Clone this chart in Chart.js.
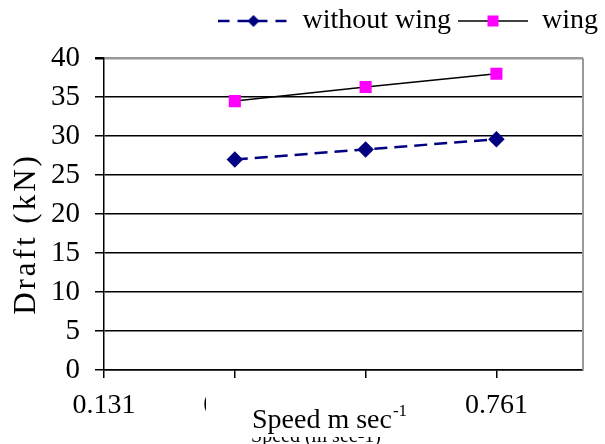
<!DOCTYPE html>
<html>
<head>
<meta charset="utf-8">
<title>Draft vs speed</title>
<script src="https://cdn.jsdelivr.net/npm/chart.js@4.4.0/dist/chart.umd.min.js"></script>
<style>
  body { margin: 0; background: #fff; }
  #wrap { position: relative; width: 605px; height: 444px; }
</style>
</head>
<body>
<div id="wrap"><canvas id="chart"></canvas></div>
<script>
const speeds = [0.341, 0.551, 0.761];
const withoutWing = [27.0, 28.3, 29.6];
const wing = [34.5, 36.3, 38.0];
const speedTicks = [0.131, 0.341, 0.551, 0.761];
const draftTicks = [0, 5, 10, 15, 20, 25, 30, 35, 40];

const NAVY = '#000080';
const PINK = '#ff00ff';

Chart.defaults.font.family = '"Liberation Serif", "Times New Roman", serif';
Chart.defaults.color = '#000';

// line + marker swatch for the legend key (excel style)
function swatch(lineColor, lineWidth, dash, drawMarker) {
  const c = document.createElement('canvas');
  c.width = 70; c.height = 16;
  const g = c.getContext('2d');
  g.strokeStyle = lineColor;
  g.lineWidth = lineWidth;
  g.setLineDash(dash);
  g.beginPath(); g.moveTo(0, 8); g.lineTo(70, 8); g.stroke();
  g.setLineDash([]);
  drawMarker(g, 35, 8);
  return c;
}
const keyWithout = swatch(NAVY, 2.5, [11, 8], (g, x, y) => {
  g.fillStyle = NAVY;
  g.beginPath(); g.moveTo(x, y - 6); g.lineTo(x + 6, y); g.lineTo(x, y + 6); g.lineTo(x - 6, y); g.closePath(); g.fill();
});
const keyWing = swatch('#000', 1.5, [], (g, x, y) => {
  g.fillStyle = PINK;
  g.fillRect(x - 5.5, y - 5.5, 11, 11);
});

// right frame line of the plot area
const frame = {
  id: 'frame',
  beforeDatasetsDraw(chart) {
    const {ctx, chartArea: a} = chart;
    ctx.save();
    ctx.strokeStyle = '#999';
    ctx.lineWidth = 2;
    ctx.beginPath(); ctx.moveTo(a.right, a.top); ctx.lineTo(a.right, a.bottom); ctx.stroke();
    ctx.restore();
  }
};

// axis titles; the x one is a text box pasted over the old title and labels
const axisText = {
  id: 'axisText',
  afterDraw(chart) {
    const ctx = chart.ctx;
    ctx.save();
    ctx.fillStyle = '#000';
    ctx.font = '20px "Liberation Serif"';
    ctx.textAlign = 'center';
    ctx.textBaseline = 'alphabetic';
    ctx.fillText('Speed (m sec-1)', 316, 442);

    ctx.fillStyle = '#fff';
    ctx.fillRect(206, 384, 244, 53);

    ctx.fillStyle = '#000';
    ctx.textAlign = 'left';
    ctx.font = '28px "Liberation Serif"';
    ctx.fillText('Speed m sec', 252, 428);
    const w = ctx.measureText('Speed m sec').width;
    ctx.font = '17px "Liberation Serif"';
    ctx.fillText('-1', 252 + w + 1, 416);

    ctx.translate(35, 234);
    ctx.rotate(-Math.PI / 2);
    ctx.font = '31px "Liberation Serif"';
    ctx.letterSpacing = '3px';
    ctx.textAlign = 'center';
    ctx.fillText('Draft (kN)', 0, 0);
    ctx.restore();
  }
};

new Chart(document.getElementById('chart'), {
  type: 'line',
  data: {
    datasets: [
      {
        label: 'without wing',
        data: speeds.map((s, i) => ({x: s, y: withoutWing[i]})),
        borderColor: NAVY,
        borderWidth: 2.5,
        borderDash: [13, 7],
        pointStyle: 'rectRot',
        pointRadius: 6.5,
        pointBackgroundColor: NAVY,
        pointBorderColor: NAVY,
        tension: 0
      },
      {
        label: 'wing',
        data: speeds.map((s, i) => ({x: s, y: wing[i]})),
        borderColor: '#000',
        borderWidth: 1.5,
        pointStyle: 'rect',
        pointRadius: 7.5,
        pointBackgroundColor: PINK,
        pointBorderColor: PINK,
        tension: 0
      }
    ]
  },
  options: {
    responsive: true,
    maintainAspectRatio: false,
    animation: false,
    layout: { padding: 0 },
    scales: {
      x: {
        type: 'linear',
        min: 0.131,
        max: 0.9,
        afterBuildTicks: s => { s.ticks = speedTicks.map(v => ({value: v})); },
        afterFit: s => { s.height = 74; s.paddingRight = 22; },
        border: { color: '#000', width: 1.5 },
        grid: { drawOnChartArea: false, color: '#000', tickLength: 8, lineWidth: 1.5 },
        ticks: { color: '#000', font: { size: 28 }, padding: 11, maxRotation: 0, autoSkip: false,
                 callback: v => v.toFixed(3) }
      },
      y: {
        min: 0,
        max: 40,
        afterBuildTicks: s => { s.ticks = draftTicks.map(v => ({value: v})); },
        afterFit: s => { s.width = 104; },
        border: { color: '#000', width: 1.5 },
        grid: {
          color: c => (c.tick && c.tick.value === 40 ? '#999' : '#000'),
          lineWidth: c => (c.tick && c.tick.value === 40 ? 2.5 : 1.5),
          tickColor: '#000',
          tickLength: 9
        },
        ticks: { color: '#000', font: { size: 29 }, padding: 15 }
      }
    },
    plugins: {
      tooltip: { enabled: false },
      legend: {
        position: 'top',
        align: 'end',
        labels: {
          usePointStyle: true,
          pointStyleWidth: 70,
          padding: 7,
          color: '#000',
          font: { size: 28 },
          generateLabels: chart => Chart.defaults.plugins.legend.labels.generateLabels(chart)
            .map((item, i) => Object.assign(item, { pointStyle: i === 0 ? keyWithout : keyWing }))
        }
      },
      // empty title used only as a gap between the legend and the plot
      title: {
        display: true,
        text: '',
        weight: 500,
        font: { size: 1 },
        padding: { top: 0, bottom: 12 }
      }
    }
  },
  plugins: [frame, axisText]
});
</script>
</body>
</html>
